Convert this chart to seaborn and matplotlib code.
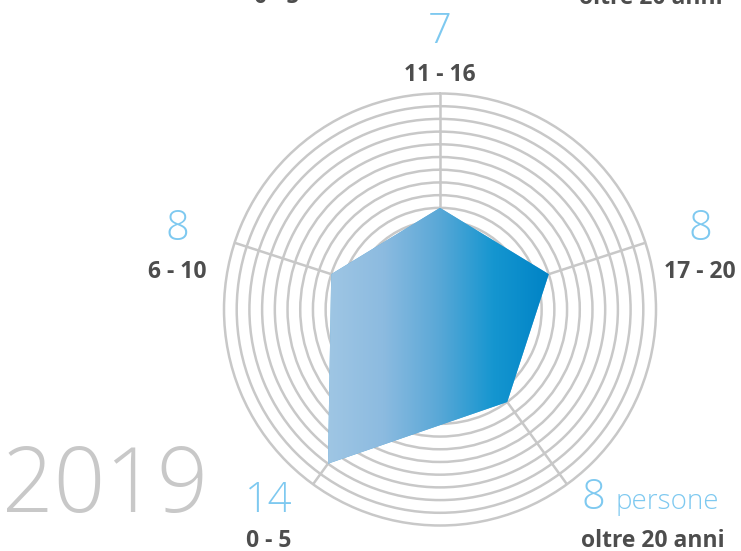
import numpy as np
import matplotlib
matplotlib.use("Agg")
import matplotlib.pyplot as plt
import seaborn as sns

# Age groups (clockwise starting bottom-left) and number of people per group
categories = ["0 - 5", "6 - 10", "11 - 16", "17 - 20", "oltre 20 anni"]
values = [14, 8, 7, 8, 8]
year = "2019"
unit = "persone"
ring_values = list(range(0, 17))

sns.set_theme(style="white")
plt.rcParams["font.family"] = ["Open Sans", "DejaVu Sans"]

W, H = 741, 551
fig = plt.figure(figsize=(W / 100, H / 100), dpi=100)
fig.patch.set_facecolor("white")

GRID = "#c8c8c8"
BLUE_TXT = "#7ec9f0"
DARK = "#4d4d4d"

# polar grid: centre and outer ring radius in pixels
r_min, r_max = -1, 16.2
r_outer = ring_values[-1]
cx, cy, R16 = 440, 309.5, 216
R = R16 * (r_max - r_min) / (r_outer - r_min)
ax = fig.add_axes([(cx - R) / W, (H - cy - R) / H, 2 * R / W, 2 * R / H],
                  projection="polar")
ax.set_theta_offset(np.pi / 2)
ax.set_theta_direction(-1)
n = len(categories)
theta = np.mod(np.deg2rad(72 * (np.arange(n) - 2)), 2 * np.pi)
ax.set_xticks(theta)
ax.set_xticklabels([])
ax.set_thetalim(0, 2 * np.pi)
ax.set_ylim(r_min, r_max)
ax.set_yticks(ring_values)
ax.set_yticklabels([])
ax.yaxis.grid(True, color=GRID, lw=1.8)
ax.xaxis.grid(False)
# spokes stop at the outermost ring
ax.vlines(theta, r_min, r_outer, color=GRID, lw=1.8, zorder=1)
for sp in ax.spines.values():
    sp.set_visible(False)
ax.set_facecolor("white")
ax.tick_params(length=0)

th_c = np.append(theta, theta[0])
v_c = np.append(values, values[0])
poly, = ax.fill(th_c, v_c, color="#5aa8d7", lw=0, zorder=3)

# horizontal gradient clipped to the data polygon
pts = ax.transData.transform(np.column_stack([theta, values]))
x0, x1 = pts[:, 0].min(), pts[:, 0].max()
y0, y1 = pts[:, 1].min(), pts[:, 1].max()
gax = fig.add_axes([0, 0, 1, 1], zorder=5)
gax.set_xlim(0, W)
gax.set_ylim(0, H)
gax.axis("off")
gax.patch.set_alpha(0)
cmap = sns.blend_palette(["#9fc6e4", "#8cbbe0", "#5aa8d7", "#1596d0", "#0083c6"],
                         as_cmap=True)
grad = np.linspace(0, 1, 256)[None, :]
im = gax.imshow(grad, cmap=cmap, extent=(x0, x1, y0, y1), aspect="auto",
                interpolation="bilinear")
im.set_clip_path(poly)


def put(x, y, s, **kw):
    fig.text(x / W, 1 - y / H, s, **kw)


num_kw = dict(color=BLUE_TXT, fontsize=30, fontweight="light", va="baseline")
lab_kw = dict(color=DARK, fontsize=16.5, fontweight="bold", va="baseline")

# value + category label positions (x centre, value baseline, label baseline)
label_pos = {
    "6 - 10": (177, 240, 278),
    "11 - 16": (440, 43, 81.5),
    "17 - 20": (700, 240, 278),
    "0 - 5": (269, 511.5, 547),
}
for cat, val in zip(categories, values):
    if cat in label_pos:
        x, yv, yl = label_pos[cat]
        put(x, yv, str(val), ha="center", **num_kw)
        put(x, yl, cat, ha="center", **lab_kw)

# last group carries the unit
put(582, 509, str(values[-1]), ha="left", **num_kw)
put(616, 509, unit, ha="left", color=BLUE_TXT, fontsize=20, fontweight="light",
    va="baseline")
put(653, 547, categories[-1], ha="center", **lab_kw)

# labels of the block above, cut by the top edge
put(277, 3, categories[0], ha="center", **lab_kw)
put(651, 4, categories[-1], ha="center", **lab_kw)

put(2, 512, year, ha="left", va="baseline", color="#c8c8c8", fontsize=65,
    fontweight="light")

fig.savefig("out.png", dpi=100)
